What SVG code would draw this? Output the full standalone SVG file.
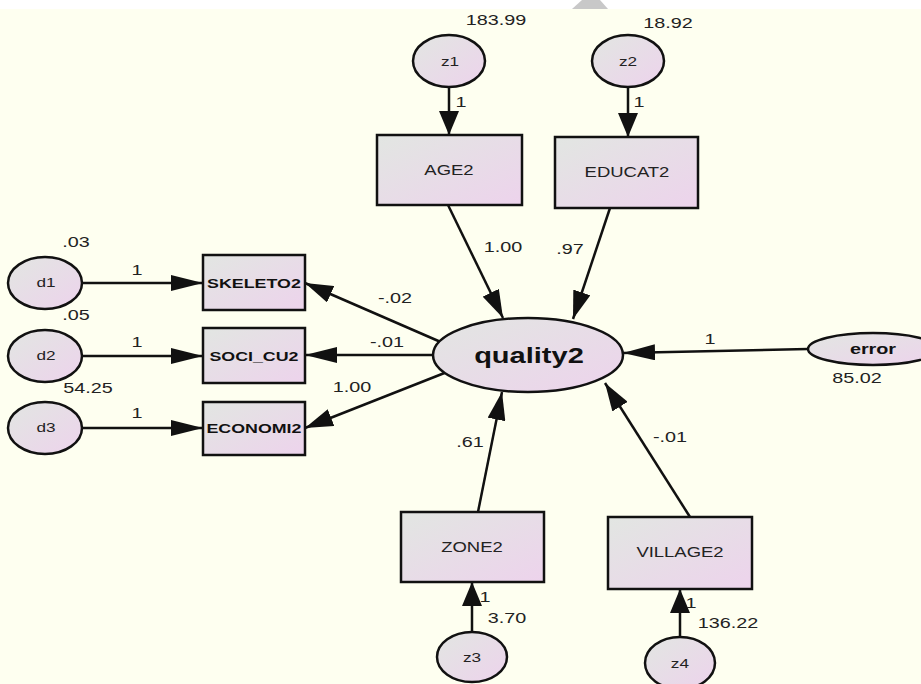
<svg xmlns="http://www.w3.org/2000/svg" width="921" height="684" viewBox="0 0 921 684">
<style>
text{font-family:"Liberation Sans",Arial,sans-serif;fill:#222;text-anchor:middle;transform-box:fill-box;transform-origin:center;transform:scaleX(1.32)}
.n{font-size:15px}
.s{font-size:13px}
.bx{font-size:14px}
.bb{font-size:13.5px;font-weight:bold;fill:#111}
.big{font-size:22px;font-weight:bold;fill:#111}
.er{font-size:15px;font-weight:bold;fill:#111}
.node{fill:url(#g);stroke:#111;stroke-width:2.5}
.c{stroke:#111;stroke-width:2.5;fill:none}
.h{marker-end:url(#mh)}
.v{marker-end:url(#mv)}
.d{marker-end:url(#md)}
</style>
<defs>
<linearGradient id="g" x1="0" y1="0" x2="1" y2="1">
<stop offset="0" stop-color="#E2E6E2"/>
<stop offset="1" stop-color="#EDD3EC"/>
</linearGradient>
<marker id="mh" markerUnits="userSpaceOnUse" markerWidth="33" markerHeight="16" refX="32" refY="8" orient="auto" viewBox="0 0 33 16"><path d="M0,0 L32,8 L0,16 Z" fill="#111"/></marker>
<marker id="mv" markerUnits="userSpaceOnUse" markerWidth="25" markerHeight="20" refX="24" refY="10" orient="auto" viewBox="0 0 25 20"><path d="M0,0 L24,10 L0,20 Z" fill="#111"/></marker>
<marker id="md" markerUnits="userSpaceOnUse" markerWidth="29" markerHeight="18" refX="28" refY="9" orient="auto" viewBox="0 0 29 18"><path d="M0,0 L28,9 L0,18 Z" fill="#111"/></marker>
</defs>
<rect x="0" y="0" width="921" height="684" fill="#FFFFFF"/>
<rect x="0" y="9" width="921" height="675" fill="#FEFFF0"/>
<polygon points="582,0 600,0 608,9 572,9" fill="#C8C8C8"/>

<g id="connectors">
<line class="c v" x1="449" y1="87" x2="449" y2="135"/>
<line class="c v" x1="628" y1="87" x2="628" y2="137"/>
<line class="c d" x1="448" y1="205" x2="503" y2="318"/>
<line class="c d" x1="610" y1="208" x2="573" y2="319"/>
<line class="c h" x1="82" y1="283" x2="203" y2="283"/>
<line class="c h" x1="82" y1="356" x2="203" y2="356"/>
<line class="c h" x1="82" y1="428" x2="203" y2="428"/>
<line class="c d" x1="443" y1="343" x2="305" y2="283"/>
<line class="c h" x1="433" y1="355" x2="305" y2="355"/>
<line class="c d" x1="447" y1="372" x2="305" y2="428"/>
<line class="c h" x1="808" y1="349" x2="623" y2="353"/>
<line class="c d" x1="478" y1="512" x2="502" y2="392"/>
<line class="c d" x1="690" y1="517" x2="605" y2="383"/>
<line class="c v" x1="472" y1="632" x2="472" y2="582"/>
<line class="c v" x1="680" y1="637" x2="680" y2="589"/>
<text class="n" x="461" y="107">1</text>
<text class="n" x="639" y="107">1</text>
<text class="n" x="503" y="252">1.00</text>
<text class="n" x="570" y="254">.97</text>
<text class="n" x="137" y="275">1</text>
<text class="n" x="137" y="347">1</text>
<text class="n" x="137" y="418">1</text>
<text class="n" x="395" y="303">-.02</text>
<text class="n" x="387" y="347">-.01</text>
<text class="n" x="352" y="392">1.00</text>
<text class="n" x="710" y="344">1</text>
<text class="n" x="470" y="447">.61</text>
<text class="n" x="670" y="442">-.01</text>
<text class="n" x="485" y="602">1</text>
<text class="n" x="691" y="608">1</text>
</g>

<g id="z1"><ellipse class="node" cx="449" cy="61" rx="36" ry="26"/><text class="s" x="450" y="66">z1</text><text class="n" x="496" y="25">183.99</text></g>
<g id="z2"><ellipse class="node" cx="628" cy="61" rx="36" ry="26"/><text class="s" x="628" y="66">z2</text><text class="n" x="668" y="28">18.92</text></g>
<g id="AGE2"><rect class="node" x="377" y="135" width="145" height="70"/><text class="bx" x="449" y="175">AGE2</text></g>
<g id="EDUCAT2"><rect class="node" x="555" y="137" width="143" height="71"/><text class="bx" x="627" y="177">EDUCAT2</text></g>
<g id="SKELETO2"><rect class="node" x="203" y="255" width="102" height="55"/><text class="bb" x="254" y="288">SKELETO2</text></g>
<g id="SOCI_CU2"><rect class="node" x="203" y="328" width="102" height="55"/><text class="bb" x="254" y="361">SOCI_CU2</text></g>
<g id="ECONOMI2"><rect class="node" x="203" y="402" width="102" height="53"/><text class="bb" x="254" y="433">ECONOMI2</text></g>
<g id="d1"><ellipse class="node" cx="45" cy="283" rx="37" ry="26"/><text class="s" x="46" y="287">d1</text><text class="n" x="76" y="247">.03</text></g>
<g id="d2"><ellipse class="node" cx="45" cy="356" rx="37" ry="26"/><text class="s" x="46" y="360">d2</text><text class="n" x="76" y="320">.05</text></g>
<g id="d3"><ellipse class="node" cx="45" cy="428" rx="37" ry="26"/><text class="s" x="46" y="432">d3</text><text class="n" x="88" y="393">54.25</text></g>
<g id="quality2"><ellipse class="node" cx="528" cy="355" rx="95" ry="37"/><text class="big" x="529" y="363">quality2</text></g>
<g id="error"><ellipse class="node" cx="873" cy="349" rx="65" ry="16"/><text class="er" x="873" y="354">error</text><text class="n" x="857" y="383">85.02</text></g>
<g id="ZONE2"><rect class="node" x="401" y="512" width="143" height="70"/><text class="bx" x="472" y="552">ZONE2</text></g>
<g id="VILLAGE2"><rect class="node" x="608" y="517" width="144" height="72"/><text class="bx" x="680" y="557">VILLAGE2</text></g>
<g id="z3"><ellipse class="node" cx="472" cy="657" rx="35" ry="25"/><text class="s" x="472" y="662">z3</text><text class="n" x="507" y="623">3.70</text></g>
<g id="z4"><ellipse class="node" cx="680" cy="663" rx="35" ry="26"/><text class="s" x="680" y="668">z4</text><text class="n" x="728" y="628">136.22</text></g>
</svg>
